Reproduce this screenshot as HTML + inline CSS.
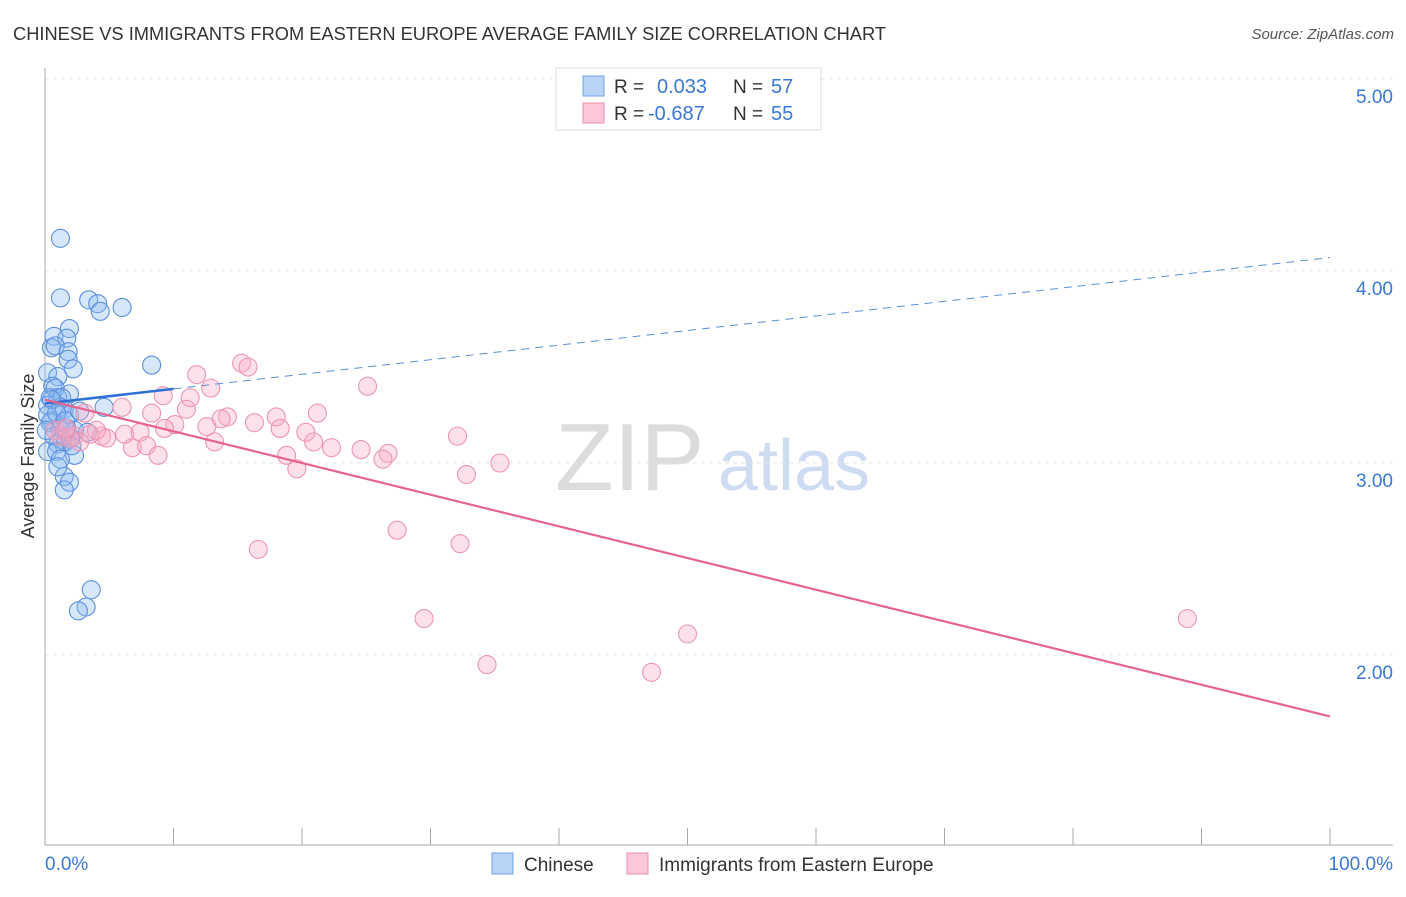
<!DOCTYPE html>
<html><head><meta charset="utf-8"><style>
body{margin:0;background:#fff;font-family:"Liberation Sans",sans-serif;}
svg text{font-family:"Liberation Sans",sans-serif;}
</style></head><body>
<svg id="chart" width="1406" height="892" xmlns="http://www.w3.org/2000/svg">
<text x="13" y="40" font-size="18" fill="#333" textLength="873" lengthAdjust="spacingAndGlyphs">CHINESE VS IMMIGRANTS FROM EASTERN EUROPE AVERAGE FAMILY SIZE CORRELATION CHART</text>
<text x="1394" y="39" font-size="15" fill="#555" text-anchor="end" font-style="italic">Source: ZipAtlas.com</text>
<g>
<text x="555" y="490" font-size="96" fill="#dcdcdc" font-family="Liberation Serif, serif">ZIP</text>
<text x="718" y="490" font-size="72" fill="#cddcf2">atlas</text>
</g>
<g id="grid"></g>
<g id="axes"></g>
<g id="marks"></g>
<g>
<rect x="556" y="68" width="265" height="62" fill="#fff" stroke="#ddd"/>
<rect x="583" y="76" width="21" height="20" fill="#b9d3f5" stroke="#6fa0e8"/>
<rect x="583" y="103" width="21" height="20" fill="#fcc7d6" stroke="#ee8fad"/>
<text x="614" y="93" font-size="19" fill="#333">R =</text><text x="657" y="93" font-size="20" fill="#3b78d8">0.033</text>
<text x="733" y="93" font-size="19" fill="#333">N =</text><text x="771" y="93" font-size="20" fill="#3b78d8">57</text>
<text x="614" y="120" font-size="19" fill="#333">R =</text><text x="648" y="120" font-size="20" fill="#3b78d8">-0.687</text>
<text x="733" y="120" font-size="19" fill="#333">N =</text><text x="771" y="120" font-size="20" fill="#3b78d8">55</text>
</g>
<text transform="translate(34,456) rotate(-90)" font-size="18" fill="#333" text-anchor="middle">Average Family Size</text>
<g>
<rect x="492" y="853" width="21" height="21" fill="#b9d3f5" stroke="#6fa0e8"/>
<text x="524" y="871" font-size="19" fill="#333">Chinese</text>
<rect x="627" y="853" width="21" height="21" fill="#fcc7d6" stroke="#ee8fad"/>
<text x="659" y="871" font-size="19" fill="#333">Immigrants from Eastern Europe</text>
</g>
</svg>
<script>
const yTicks=[2,3,4,5];
const yTickLabels=["2.00","3.00","4.00","5.00"];
const xEndLabels=["0.0%","100.0%"];
const blueX=[1.2,1.2,3.4,4.1,4.3,6.0,0.7,1.9,1.7,0.5,0.8,1.8,1.8,2.2,8.3,0.2,1.0,0.6,0.8,1.9,0.4,1.0,1.3,0.2,1.2,1.5,1.9,4.6,0.5,0.4,1.2,1.7,2.3,3.3,0.7,1.3,1.0,1.6,2.0,0.2,0.9,2.3,1.2,1.5,1.9,1.5,3.6,3.2,2.6,0.5,0.2,0.9,1.6,0.1,2.1,1.0,2.7];
const blueY=[4.17,3.86,3.85,3.83,3.79,3.81,3.66,3.70,3.65,3.60,3.61,3.58,3.54,3.49,3.51,3.47,3.45,3.40,3.39,3.36,3.34,3.34,3.34,3.30,3.29,3.28,3.25,3.29,3.22,3.21,3.18,3.18,3.17,3.16,3.14,3.12,3.10,3.11,3.13,3.06,3.06,3.04,3.02,2.93,2.90,2.86,2.34,2.25,2.23,3.33,3.25,3.26,3.22,3.17,3.09,2.98,3.27];
const pinkX=[15.3,15.8,11.8,12.9,25.1,9.2,11.3,6.0,8.3,11.0,3.1,21.2,14.2,13.7,18.0,10.1,12.6,16.3,18.3,20.3,32.1,4.4,6.2,7.4,9.3,1.9,4.8,13.2,20.9,6.8,7.9,22.3,24.6,26.7,26.3,18.8,8.8,35.4,19.6,32.8,27.4,16.6,32.3,29.5,50.0,34.4,47.2,88.9,1.2,2.3,3.5,0.8,1.6,2.7,4.0];
const pinkY=[3.52,3.50,3.46,3.39,3.40,3.35,3.34,3.29,3.26,3.28,3.26,3.26,3.24,3.23,3.24,3.20,3.19,3.21,3.18,3.16,3.14,3.14,3.15,3.16,3.18,3.13,3.13,3.11,3.11,3.08,3.09,3.08,3.07,3.05,3.02,3.04,3.04,3.00,2.97,2.94,2.65,2.55,2.58,2.19,2.11,1.95,1.91,2.19,3.14,3.14,3.15,3.17,3.18,3.11,3.17];
const blueTrend=[3.31,4.07];
const pinkTrend=[3.33,1.68];
const X=p=>45+p*12.85;
const Y=v=>463-(v-3)*192;
const NS="http://www.w3.org/2000/svg";
function mk(t,a,parent){const e=document.createElementNS(NS,t);for(const k in a)e.setAttribute(k,a[k]);parent.appendChild(e);return e;}
const grid=document.getElementById('grid'),axes=document.getElementById('axes'),marks=document.getElementById('marks');
yTicks.forEach((v,i)=>{
 const l=mk('line',{x1:45,x2:1393,y1:Y(v),y2:Y(v),stroke:'#e6e6e6','stroke-dasharray':'4,4'},grid);
 
 
 const t=mk('text',{x:1393,y:Y(v)+24,'font-size':19,fill:'#3b78d8','text-anchor':'end'},axes);
 t.textContent=yTickLabels[i];
 
 
});
const ya=mk('line',{x1:45,x2:45,y1:68,y2:845,stroke:'#aaa'},axes);


const xa=mk('line',{x1:45,x2:1393,y1:845,y2:845,stroke:'#aaa'},axes);


for(let p=10;p<=100;p+=10){
 const tk=mk('line',{x1:X(p),x2:X(p),y1:828,y2:845,stroke:'#aaa'},axes);
 
 
}
const xl0=mk('text',{x:45,y:870,'font-size':19,fill:'#3b78d8'},axes);xl0.textContent=xEndLabels[0];


const xl1=mk('text',{x:1393,y:870,'font-size':19,fill:'#3b78d8','text-anchor':'end'},axes);xl1.textContent=xEndLabels[1];


blueX.forEach((x,i)=>{
 const c=mk('circle',{cx:X(x),cy:Y(blueY[i]),r:9,fill:'rgba(140,185,240,0.35)',stroke:'#5a90de','stroke-width':1.1},marks);
 
 
});
pinkX.forEach((x,i)=>{
 const c=mk('circle',{cx:X(x),cy:Y(pinkY[i]),r:9,fill:'rgba(248,170,195,0.35)',stroke:'#ee95b2','stroke-width':1.1},marks);
 
 
});
const bv=p=>blueTrend[0]+(blueTrend[1]-blueTrend[0])*p/100;
const bs=mk('line',{x1:X(0),y1:Y(bv(0)),x2:X(10),y2:Y(bv(10)),stroke:'#2f6fd6','stroke-width':2.5},marks);


const bd=mk('line',{x1:X(10),y1:Y(bv(10)),x2:X(100),y2:Y(bv(100)),stroke:'#5a8fd8','stroke-width':1,'stroke-dasharray':'8,6'},marks);


const pl=mk('line',{x1:X(0),y1:Y(pinkTrend[0]),x2:X(100),y2:Y(pinkTrend[1]),stroke:'#e8628e','stroke-width':2.2},marks);


</script>
</body></html>
